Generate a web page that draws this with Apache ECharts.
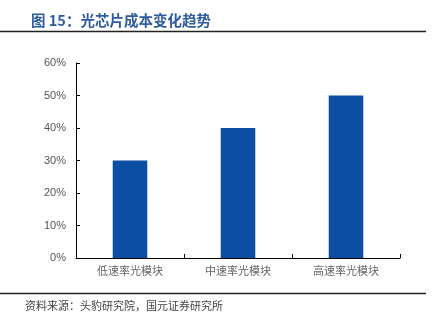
<!DOCTYPE html>
<html><head><meta charset="utf-8">
<script src="https://cdn.jsdelivr.net/npm/echarts@6/dist/echarts.min.js"></script>
<style>html,body{margin:0;padding:0;background:#fff}#c{width:433px;height:320px}</style>
</head><body><div id="c"></div>
<script>
const categories = ['低速率光模块', '中速率光模块', '高速率光模块'];
const values = [30, 40, 50];
const yTicks = [0, 10, 20, 30, 40, 50, 60];
const titleText = '图 15：光芯片成本变化趋势';
const sourceText = '资料来源：头豹研究院，国元证券研究所';

const chart = echarts.init(document.getElementById('c'), null, {renderer: 'canvas'});
chart.setOption({
  animation: false,
  backgroundColor: '#fff',
  title: {
    text: titleText, left: 26, top: 8,
    textStyle: {color: '#2F5C9E', fontSize: 14.5, fontWeight: 'bold', fontFamily: 'Noto Sans CJK SC'}
  },
  graphic: [
    {type: 'line', shape: {x1: 0, y1: 31.5, x2: 426, y2: 31.5}, style: {stroke: '#222', lineWidth: 1.5}},
    {type: 'line', shape: {x1: 0, y1: 293.5, x2: 426, y2: 293.5}, style: {stroke: '#222', lineWidth: 1.5}},
    {type: 'text', left: 25, top: 300, style: {text: sourceText, fill: '#444', fontSize: 11, fontFamily: 'Noto Sans CJK SC'}}
  ],
  grid: {left: 76, right: 33, top: 63, bottom: 62, containLabel: false},
  xAxis: {
    type: 'category', data: categories,
    axisLine: {lineStyle: {color: '#000', width: 1}},
    axisTick: {show: true, length: 4, inside: true, lineStyle: {color: '#000'}},
    axisLabel: {color: '#666', fontSize: 11, margin: 7, fontFamily: 'Noto Sans CJK SC'}
  },
  yAxis: {
    type: 'value', min: 0, max: 60, interval: 10,
    axisLine: {show: true, lineStyle: {color: '#000', width: 1}},
    axisTick: {show: true, length: 4, inside: true, lineStyle: {color: '#000'}},
    splitLine: {show: false},
    axisLabel: {color: '#555', fontSize: 11, margin: 10, fontFamily: 'Liberation Sans',
      formatter: v => yTicks.includes(v) ? v + '%' : ''}
  },
  series: [{
    type: 'bar', data: values, barWidth: '32%',
    itemStyle: {color: '#0B4EA3'}
  }]
});
</script></body></html>
